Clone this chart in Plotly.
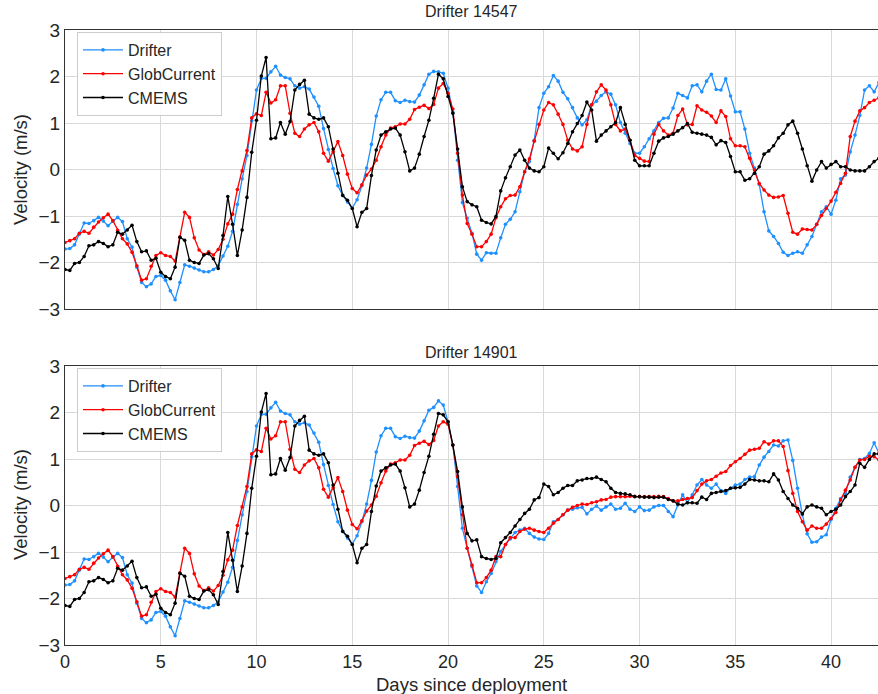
import numpy as np
import plotly.graph_objects as go
from plotly.subplots import make_subplots

# Velocities (m/s), sampled every 6 hours since deployment.
STEP_DAYS = 0.25

# Both drifters were deployed together and share the first ~19 days of record.
DRIFTER_HEAD = [
    -1.71, -1.70, -1.62, -1.39,  -1.15, -1.16, -1.10, -1.03,
    -1.11, -1.21, -1.11, -1.03,  -1.12, -1.49, -1.67, -2.10,
    -2.43, -2.52, -2.46, -2.30,  -2.28, -2.38, -2.61, -2.80,
    -2.43, -2.05, -2.08, -2.12,  -2.16, -2.20, -2.20, -2.15,
    -2.07, -1.86, -1.65, -1.33,  -0.75, -0.20, 0.30, 1.05,
    1.71, 1.96, 1.96, 2.10,  2.22, 2.03, 1.98, 1.95,
    1.80, 1.75, 1.78, 1.73,  1.56, 1.36, 0.88, 0.43,
    0.02, -0.35, -0.55, -0.70,  -0.83, -0.65, -0.35, 0.03,
    0.54, 1.15, 1.50, 1.66,  1.66, 1.48, 1.44, 1.49,
    1.46, 1.45, 1.60, 1.82,  2.05, 2.11,
]
GLOBCURRENT_HEAD = [
    -1.57, -1.53, -1.49, -1.37,  -1.33, -1.37, -1.24, -1.13,
    -1.04, -0.96, -1.10, -1.31,  -1.49, -1.60, -1.78, -2.07,
    -2.38, -2.35, -2.08, -1.85,  -1.79, -1.85, -1.87, -1.97,
    -1.45, -0.92, -1.03, -1.47,  -1.73, -1.83, -1.77, -1.84,
    -1.72, -1.50, -1.17, -0.96,  -0.43, -0.03, 0.41, 1.11,
    1.20, 1.16, 1.66, 1.43,  1.50, 1.80, 1.80, 1.21,
    0.78, 0.71, 0.87, 0.96,  1.01, 0.81, 0.35, 0.18,
    0.38, 0.60, 0.30, -0.10,  -0.41, -0.50, -0.33, -0.12,
    0.01, 0.20, 0.49, 0.74,  0.89, 0.92, 0.98, 0.98,
    1.08, 1.29, 1.34, 1.38,  1.31, 1.40,
]
CMEMS_HEAD = [
    -2.15, -2.17, -2.02, -2.00,  -1.87, -1.64, -1.62, -1.55,
    -1.59, -1.66, -1.62, -1.35,  -1.39, -1.30, -1.20, -1.55,
    -1.77, -1.75, -1.95, -1.91,  -2.21, -2.30, -2.35, -2.10,
    -1.46, -1.52, -1.95, -2.00,  -2.02, -1.84, -1.81, -1.92,
    -2.13, -1.42, -0.58, -1.18,  -1.85, -1.30, -0.60, 0.37,
    1.06, 2.01, 2.41, 0.66,  0.68, 1.01, 0.76, 1.03,
    1.71, 1.83, 1.92, 1.19,  1.11, 1.08, 1.11, 0.92,
    0.44, -0.08, -0.56, -0.66,  -0.84, -1.23, -0.92, -0.84,
    -0.13, 0.42, 0.74, 0.81,  0.87, 0.89, 0.74, 0.38,
    -0.03, 0.03, 0.33, 0.71,  1.06, 1.53,
]

# Drifter 14547, from day 19.5 onwards
DRIFTER_14547 = [
    2.10, 2.07,
    1.75, 1.23, 0.20, -0.71,  -1.05, -1.37, -1.82, -1.95,
    -1.79, -1.80, -1.80, -1.47,  -1.18, -1.07, -0.91, -0.48,
    -0.05, 0.17, 0.63, 1.33,  1.64, 1.78, 2.02, 1.90,
    1.66, 1.52, 1.33, 1.11,  0.96, 1.07, 1.39, 1.47,
    1.59, 1.67, 1.62, 1.39,  1.01, 0.78, 0.56, 0.35,
    0.35, 0.49, 0.66, 0.83,  1.01, 1.10, 1.11, 1.32,
    1.64, 1.59, 1.54, 1.80,  1.82, 1.67, 1.90, 2.05,
    1.72, 1.71, 1.95, 1.58,  1.24, 1.24, 0.87, 0.35,
    0.03, -0.32, -0.91, -1.32,  -1.44, -1.59, -1.78, -1.85,
    -1.80, -1.77, -1.80, -1.62,  -1.44, -1.18, -0.91, -0.80,
    -0.96, -0.66, -0.20, -0.12,  0.38, 0.74, 1.16, 1.71,
    1.80, 1.67, 1.87,
]
GLOBCURRENT_14547 = [
    1.75, 1.85,
    1.64, 1.30, 0.35, -0.55,  -1.16, -1.39, -1.66, -1.66,
    -1.55, -1.39, -1.04, -0.80,  -0.63, -0.56, -0.55, -0.37,
    -0.05, 0.23, 0.61, 0.97,  1.28, 1.44, 1.39, 1.19,
    0.97, 0.63, 0.44, 0.40,  0.49, 0.97, 1.39, 1.67,
    1.82, 1.71, 1.39, 0.97,  0.83, 0.87, 0.63, 0.30,
    0.24, 0.18, 0.17, 0.76,  0.97, 0.83, 0.74, 0.78,
    1.16, 1.30, 0.96, 0.97,  1.37, 1.28, 1.23, 1.15,
    1.01, 1.26, 1.14, 0.66,  0.51, 0.51, 0.49, 0.24,
    -0.01, -0.30, -0.44, -0.55,  -0.60, -0.59, -0.56, -0.94,
    -1.35, -1.39, -1.28, -1.29,  -1.30, -1.18, -0.99, -0.84,
    -0.68, -0.49, -0.30, -0.08,  0.71, 1.04, 1.26, 1.33,
    1.44, 1.49, 1.54,
]
CMEMS_14547 = [
    2.05, 1.95,
    1.57, 1.21, 0.44, -0.37,  -0.69, -0.76, -0.80, -1.09,
    -1.14, -1.17, -1.01, -0.46,  -0.18, 0.06, 0.31, 0.42,
    0.20, 0.03, -0.03, -0.05,  0.06, 0.46, 0.35, 0.23,
    0.36, 0.56, 0.81, 0.99,  1.16, 1.45, 1.28, 0.61,
    0.74, 0.83, 0.92, 1.01,  1.33, 0.97, 0.63, 0.20,
    0.08, 0.08, 0.08, 0.35,  0.61, 0.68, 0.71, 0.76,
    0.83, 0.90, 0.99, 0.80,  0.78, 0.76, 0.74, 0.69,
    0.53, 0.62, 0.58, 0.28,  -0.05, -0.05, -0.23, -0.20,
    -0.08, 0.06, 0.33, 0.40,  0.51, 0.68, 0.78, 0.96,
    1.04, 0.78, 0.44, 0.08,  -0.25, -0.01, 0.17, 0.03,
    0.11, 0.17, 0.06, 0.06,  -0.01, -0.03, -0.03, -0.03,
    0.06, 0.17, 0.24,
]

# Drifter 14901, from day 19.5 onwards
DRIFTER_14901 = [
    2.25, 2.16,
    1.80, 1.30, 0.41, -0.49,  -0.92, -1.31, -1.73, -1.87,
    -1.64, -1.46, -1.21, -0.99,  -0.84, -0.72, -0.58, -0.53,
    -0.49, -0.60, -0.68, -0.72,  -0.73, -0.60, -0.35, -0.30,
    -0.20, -0.10, -0.08, -0.05,  -0.04, -0.18, -0.08, -0.01,
    -0.10, -0.03, 0.03, -0.08,  -0.06, 0.05, -0.08, -0.13,
    -0.03, -0.11, -0.10, -0.03,  0.00, 0.00, -0.13, -0.24,
    0.01, 0.23, 0.06, 0.23,  0.44, 0.56, 0.44, 0.37,
    0.46, 0.32, 0.26, 0.37,  0.44, 0.46, 0.56, 0.61,
    0.62, 0.87, 1.04, 1.16,  1.30, 1.28, 1.39, 1.41,
    0.97, 0.37, -0.20, -0.61,  -0.79, -0.78, -0.68, -0.63,
    -0.30, -0.06, 0.15, 0.26,  0.61, 0.82, 0.99, 1.01,
    1.12, 1.35, 1.12,
]
GLOBCURRENT_14901 = [
    1.71, 1.80,
    1.75, 1.30, 0.62, -0.20,  -0.92, -1.28, -1.66, -1.66,
    -1.55, -1.39, -1.10, -1.10,  -0.84, -0.69, -0.69, -0.56,
    -0.51, -0.49, -0.53, -0.56,  -0.58, -0.49, -0.38, -0.30,
    -0.20, -0.10, -0.04, 0.00,  0.03, 0.02, 0.06, 0.08,
    0.12, 0.13, 0.18, 0.19,  0.19, 0.19, 0.20, 0.20,
    0.19, 0.19, 0.19, 0.19,  0.20, 0.19, 0.15, 0.10,
    0.10, 0.13, 0.15, 0.17,  0.32, 0.46, 0.53, 0.56,
    0.63, 0.70, 0.73, 0.86,  0.94, 1.01, 1.10, 1.19,
    1.21, 1.23, 1.37, 1.32,  1.39, 1.39, 1.27, 0.75,
    0.26, -0.13, -0.35, -0.53,  -0.44, -0.49, -0.49, -0.40,
    -0.28, -0.15, 0.12, 0.33,  0.55, 0.82, 0.98, 0.99,
    1.06, 1.05, 0.98,
]
CMEMS_14901 = [
    1.98, 1.95,
    1.80, 1.30, 0.73, -0.03,  -0.60, -0.76, -0.74, -1.10,
    -1.14, -1.16, -1.14, -0.80,  -0.69, -0.58, -0.44, -0.30,
    -0.17, -0.08, 0.12, 0.17,  0.46, 0.41, 0.23, 0.28,
    0.37, 0.43, 0.43, 0.53,  0.55, 0.58, 0.58, 0.61,
    0.56, 0.51, 0.37, 0.28,  0.26, 0.25, 0.23, 0.19,
    0.19, 0.18, 0.18, 0.17,  0.18, 0.18, 0.13, 0.10,
    0.03, 0.01, 0.06, 0.06,  0.05, 0.18, 0.13, 0.26,
    0.28, 0.30, 0.32, 0.37,  0.38, 0.39, 0.46, 0.56,
    0.55, 0.53, 0.53, 0.51,  0.68, 0.55, 0.30, 0.15,
    0.01, -0.06, -0.18, -0.03,  0.01, -0.03, -0.06, -0.20,
    -0.13, -0.08, 0.01, 0.19,  0.30, 0.44, 0.91, 0.82,
    0.99, 1.11, 1.11,
]

PANEL_TITLES = ["Drifter 14547", "Drifter 14901"]
SERIES_NAMES = ["Drifter", "GlobCurrent", "CMEMS"]
SERIES_COLORS = ["#1e90ff", "#ff0000", "#000000"]
X_TICKS = [0, 5, 10, 15, 20, 25, 30, 35, 40]
Y_TICKS = [-3, -2, -1, 0, 1, 2, 3]

panels = [
    [DRIFTER_HEAD + DRIFTER_14547, GLOBCURRENT_HEAD + GLOBCURRENT_14547, CMEMS_HEAD + CMEMS_14547],
    [DRIFTER_HEAD + DRIFTER_14901, GLOBCURRENT_HEAD + GLOBCURRENT_14901, CMEMS_HEAD + CMEMS_14901],
]
for p in panels:
    for s in p:
        assert len(s) == len(p[0]), [len(q) for q in p]

FONT = "Liberation Sans, Arial, DejaVu Sans, sans-serif"
TEXT = "#262626"
GRID = "#d9d9d9"
SPINE = "#333333"

W, H = 878, 694
ML, MR, MT, MB = 65, 0, 30, 49
GAP = 57
plot_h = H - MT - MB

fig = make_subplots(rows=2, cols=1, shared_xaxes=True, vertical_spacing=GAP / plot_h)

for row, series_set in enumerate(panels, start=1):
    legend_id = "legend" if row == 1 else "legend2"
    for name, color, values in zip(SERIES_NAMES, SERIES_COLORS, series_set):
        days = np.arange(len(values)) * STEP_DAYS
        fig.add_trace(
            go.Scatter(
                x=days, y=values, name=name, mode="lines+markers",
                line=dict(color=color, width=1.3),
                marker=dict(color=color, size=3.6),
                legend=legend_id,
            ),
            row=row, col=1,
        )

for row in (1, 2):
    fig.update_xaxes(
        range=[0, 42.45], tickvals=X_TICKS, showgrid=True, gridcolor=GRID, gridwidth=1,
        showline=True, linecolor=SPINE, linewidth=1.2, mirror=True, ticks="",
        zeroline=False, showticklabels=(row == 2),
        tickfont=dict(family=FONT, size=18, color=TEXT),
        row=row, col=1,
    )
    fig.update_yaxes(
        range=[-3, 3], tickvals=Y_TICKS, showgrid=True, gridcolor=GRID, gridwidth=1,
        showline=True, linecolor=SPINE, linewidth=1.2, ticks="", zeroline=False,
        tickfont=dict(family=FONT, size=19, color=TEXT),
        row=row, col=1,
    )

def py(px):
    """Pixel row -> paper y."""
    return (H - MB - px) / plot_h

def px_x(px):
    return (px - ML) / (W - ML - MR)

annotations = []
for title, y_px in zip(PANEL_TITLES, (12, 353)):
    annotations.append(dict(
        text=title, x=0.5, y=py(y_px), xref="paper", yref="paper",
        xanchor="center", yanchor="middle", showarrow=False,
        font=dict(family=FONT, size=16, color=TEXT),
    ))
for y_px in (170, 505):
    annotations.append(dict(
        text="Velocity (m/s)", x=px_x(20), y=py(y_px), xref="paper", yref="paper",
        xanchor="center", yanchor="middle", showarrow=False, textangle=-90,
        font=dict(family=FONT, size=18.5, color=TEXT),
    ))
annotations.append(dict(
    text="Days since deployment", x=0.5, y=py(684), xref="paper", yref="paper",
    xanchor="center", yanchor="middle", showarrow=False,
    font=dict(family=FONT, size=18.5, color=TEXT),
))

legend_style = dict(
    bgcolor="rgba(255,255,255,0.9)", bordercolor="#cccccc", borderwidth=1,
    font=dict(family=FONT, size=16, color=TEXT),
    xanchor="left", yanchor="top", tracegroupgap=0, itemwidth=40,
)

fig.update_layout(
    width=W, height=H,
    margin=dict(l=ML, r=MR, t=MT, b=MB),
    paper_bgcolor="white", plot_bgcolor="white",
    annotations=annotations,
    legend=dict(x=px_x(77), y=py(32), **legend_style),
    legend2=dict(x=px_x(77), y=py(368), **legend_style),
    showlegend=True,
)

fig.write_html("out.html")
